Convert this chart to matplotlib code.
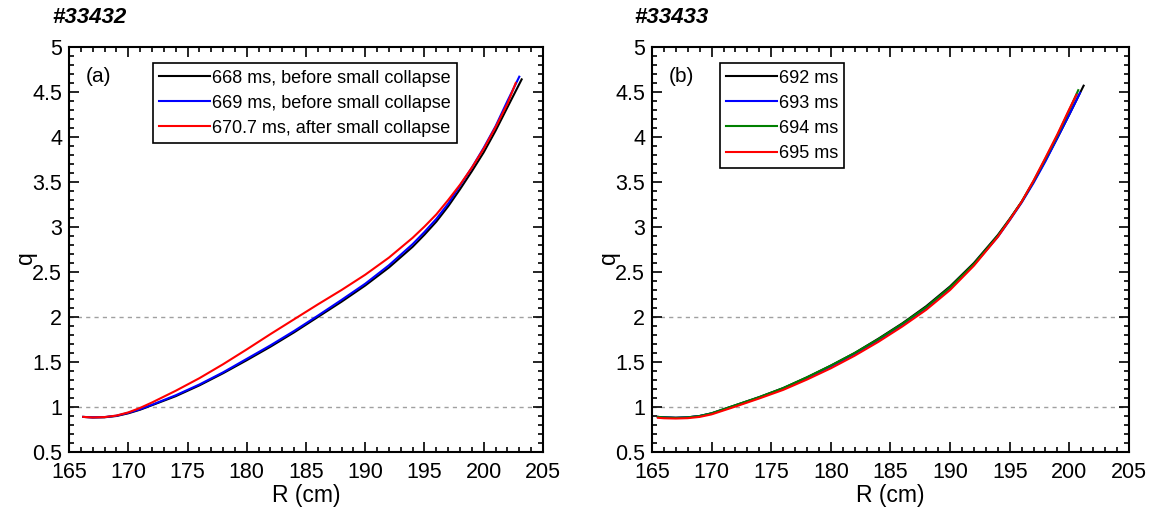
import matplotlib.pyplot as plt
from matplotlib.ticker import MultipleLocator

plt.rcParams['font.family'] = ['Liberation Sans', 'DejaVu Sans']

# Shot 33432: q profiles around the small collapse
r_668 = [166.2, 167, 168, 169, 170, 171, 172, 174, 176, 178, 180, 182, 184, 186, 188, 190, 192, 194, 195, 196, 197, 198, 199, 200, 201, 202, 203.2]
q_668 = [0.89, 0.884, 0.886, 0.90, 0.93, 0.97, 1.02, 1.12, 1.24, 1.375, 1.52, 1.67, 1.83, 2.00, 2.17, 2.35, 2.55, 2.78, 2.915, 3.06, 3.23, 3.42, 3.62, 3.83, 4.07, 4.33, 4.64]
r_669 = [166.2, 167, 168, 169, 170, 171, 172, 174, 176, 178, 180, 182, 184, 186, 188, 190, 192, 194, 195, 196, 197, 198, 199, 200, 201, 202, 203.0]
q_669 = [0.89, 0.885, 0.888, 0.903, 0.935, 0.975, 1.025, 1.13, 1.25, 1.385, 1.535, 1.685, 1.845, 2.015, 2.19, 2.37, 2.575, 2.81, 2.945, 3.09, 3.26, 3.46, 3.66, 3.88, 4.12, 4.40, 4.67]
r_670 = [166.2, 167, 168, 169, 170, 171, 172, 174, 176, 178, 180, 182, 184, 186, 188, 190, 192, 194, 195, 196, 197, 198, 199, 200, 201, 202, 202.7]
q_670 = [0.89, 0.884, 0.888, 0.905, 0.94, 0.99, 1.05, 1.18, 1.32, 1.475, 1.64, 1.81, 1.975, 2.14, 2.30, 2.47, 2.66, 2.88, 3.005, 3.14, 3.30, 3.47, 3.66, 3.87, 4.11, 4.37, 4.60]
labels_a = ['668 ms, before small collapse', '669 ms, before small collapse', '670.7 ms, after small collapse']

# Shot 33433
r_692 = [165.5, 166, 167, 168, 169, 170, 172, 174, 176, 178, 180, 182, 184, 186, 188, 190, 192, 194, 195, 196, 197, 198, 199, 200, 201.2]
q_692 = [0.89, 0.885, 0.88, 0.885, 0.90, 0.93, 1.02, 1.11, 1.21, 1.33, 1.46, 1.60, 1.76, 1.93, 2.12, 2.34, 2.60, 2.91, 3.09, 3.28, 3.50, 3.74, 3.99, 4.25, 4.57]
r_693 = [165.5, 166, 167, 168, 169, 170, 172, 174, 176, 178, 180, 182, 184, 186, 188, 190, 192, 194, 195, 196, 197, 198, 199, 200, 200.9]
q_693 = [0.89, 0.885, 0.88, 0.885, 0.90, 0.928, 1.015, 1.105, 1.205, 1.32, 1.45, 1.59, 1.745, 1.915, 2.10, 2.32, 2.58, 2.89, 3.075, 3.27, 3.49, 3.73, 3.99, 4.25, 4.49]
r_694 = [165.5, 166, 167, 168, 169, 170, 172, 174, 176, 178, 180, 182, 184, 186, 188, 190, 192, 194, 195, 196, 197, 198, 199, 200, 200.75]
q_694 = [0.89, 0.885, 0.88, 0.885, 0.90, 0.93, 1.02, 1.11, 1.21, 1.33, 1.46, 1.60, 1.755, 1.925, 2.11, 2.33, 2.59, 2.90, 3.085, 3.28, 3.51, 3.76, 4.02, 4.30, 4.52]
r_695 = [165.5, 166, 167, 168, 169, 170, 172, 174, 176, 178, 180, 182, 184, 186, 188, 190, 192, 194, 195, 196, 197, 198, 199, 200, 200.6]
q_695 = [0.88, 0.875, 0.872, 0.876, 0.89, 0.918, 1.005, 1.095, 1.19, 1.305, 1.43, 1.57, 1.725, 1.895, 2.08, 2.30, 2.57, 2.89, 3.08, 3.28, 3.515, 3.77, 4.03, 4.31, 4.47]
labels_b = ['692 ms', '693 ms', '694 ms', '695 ms']

fig = plt.figure(figsize=(11.58, 5.14), dpi=100)
ax1 = fig.add_axes([0.0596, 0.1206, 0.4093, 0.788])
ax2 = fig.add_axes([0.5630, 0.1206, 0.4119, 0.788])

ax1.plot(r_668, q_668, color='black', lw=1.5, label=labels_a[0])
ax1.plot(r_669, q_669, color='blue', lw=1.5, label=labels_a[1])
ax1.plot(r_670, q_670, color='red', lw=1.5, label=labels_a[2])

ax2.plot(r_692, q_692, color='black', lw=1.5, label=labels_b[0])
ax2.plot(r_693, q_693, color='blue', lw=1.5, label=labels_b[1])
ax2.plot(r_694, q_694, color='green', lw=1.5, label=labels_b[2])
ax2.plot(r_695, q_695, color='red', lw=1.5, label=labels_b[3])

for ax, shot, tag in [(ax1, '#33432', '(a)'), (ax2, '#33433', '(b)')]:
    ax.axhline(1, color='#a0a0a0', lw=1, ls=(0, (3, 3)), zorder=0)
    ax.axhline(2, color='#a0a0a0', lw=1, ls=(0, (3, 3)), zorder=0)
    ax.set_xlim(165, 205)
    ax.set_ylim(0.5, 5)
    ax.xaxis.set_major_locator(MultipleLocator(5))
    ax.xaxis.set_minor_locator(MultipleLocator(1))
    ax.yaxis.set_major_locator(MultipleLocator(0.5))
    ax.yaxis.set_minor_locator(MultipleLocator(0.1))
    ax.set_yticklabels([f'{v:g}' for v in ax.get_yticks()])
    ax.tick_params(which='both', direction='in', top=True, right=True, labelsize=15.5, width=1.2)
    ax.tick_params(which='major', length=7)
    ax.tick_params(which='minor', length=3.5)
    ax.tick_params(axis='x', pad=7)
    ax.tick_params(axis='y', pad=5)
    for s in ax.spines.values():
        s.set_linewidth(1.5)
    ax.set_xlabel('R (cm)', fontsize=16.5, labelpad=1)
    ax.set_ylabel('q', fontsize=16.5)
    ax.yaxis.set_label_coords(-0.067, 0.48)
    ax.text(-0.036, 1.072, shot, transform=ax.transAxes, fontsize=16, fontweight='bold',
            fontstyle='italic', ha='left', va='center')
    ax.text(0.035, 0.926, tag, transform=ax.transAxes, fontsize=15, ha='left', va='center')

leg_kw = dict(loc='upper left', fontsize=13, handlelength=2.8, handletextpad=0.1,
              borderpad=0.35, labelspacing=0.45, fancybox=False, framealpha=1,
              edgecolor='black', borderaxespad=0)
leg1 = ax1.legend(bbox_to_anchor=(0.177, 0.96), **leg_kw)
leg2 = ax2.legend(bbox_to_anchor=(0.1426, 0.96), **leg_kw)
for leg in (leg1, leg2):
    leg.get_frame().set_linewidth(1.2)

fig.savefig('out.png', dpi=100)
